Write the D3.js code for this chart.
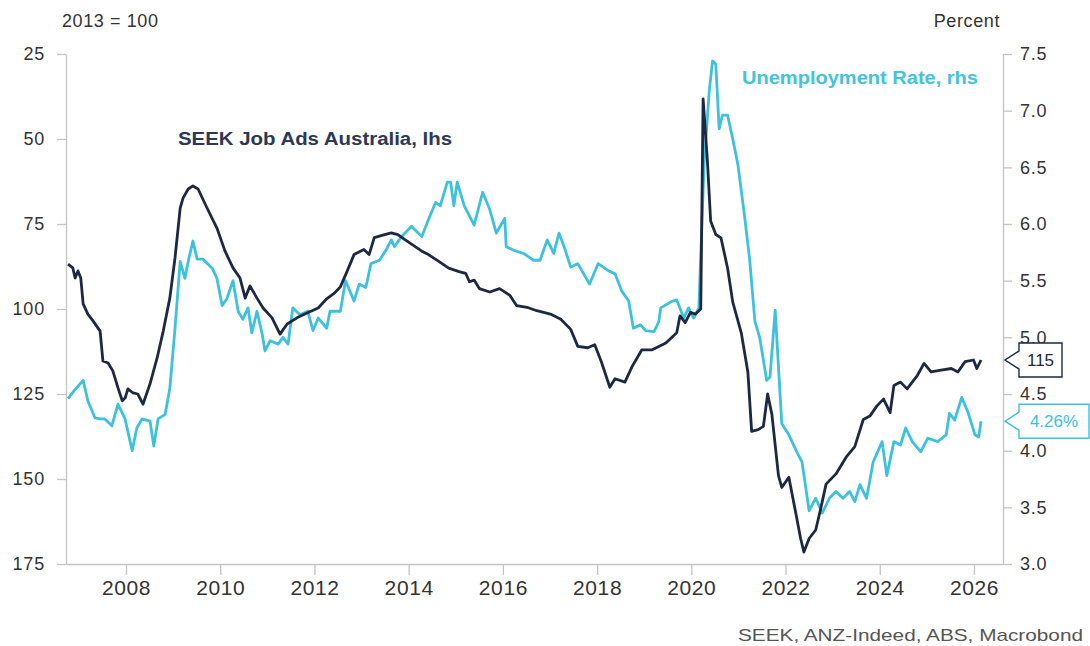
<!DOCTYPE html>
<html><head><meta charset="utf-8">
<script src="https://cdn.jsdelivr.net/npm/d3@7"></script>
<style>
html,body{margin:0;padding:0;background:#fff;}
svg{display:block;font-family:"Liberation Sans",Arial,sans-serif;}
</style></head><body>
<svg id="chart" width="1090" height="646"></svg>
<script>
// SEEK Job Ads Australia (2013 = 100), left axis (inverted)
const jobAdsDates = [2006.77,2006.87,2006.92,2006.98,2007.04,2007.09,2007.19,2007.30,2007.45,2007.51,2007.62,2007.72,2007.83,2007.92,2007.98,2008.04,2008.15,2008.25,2008.36,2008.51,2008.66,2008.79,2008.93,2009.04,2009.15,2009.21,2009.32,2009.42,2009.53,2009.72,2009.93,2010.10,2010.27,2010.42,2010.53,2010.63,2010.78,2010.91,2011.10,2011.27,2011.42,2011.63,2011.84,2012.08,2012.26,2012.41,2012.55,2012.69,2012.84,2013.05,2013.16,2013.27,2013.49,2013.63,2013.77,2013.92,2014.13,2014.28,2014.42,2014.64,2014.85,2015.07,2015.21,2015.29,2015.39,2015.50,2015.72,2015.93,2016.15,2016.29,2016.51,2016.72,2017.01,2017.23,2017.44,2017.59,2017.80,2017.95,2018.09,2018.27,2018.38,2018.59,2018.74,2018.95,2019.17,2019.31,2019.46,2019.69,2019.76,2019.87,2019.98,2020.09,2020.20,2020.25,2020.34,2020.41,2020.52,2020.63,2020.77,2020.88,2021.06,2021.20,2021.28,2021.42,2021.53,2021.62,2021.71,2021.85,2021.92,2022.07,2022.21,2022.32,2022.39,2022.50,2022.64,2022.75,2022.86,2023.07,2023.29,2023.47,2023.65,2023.79,2023.94,2024.08,2024.22,2024.30,2024.44,2024.58,2024.80,2024.94,2025.09,2025.30,2025.52,2025.66,2025.81,2025.99,2026.06,2026.15];
const jobAdsValues = [86.8,87.9,90.9,88.8,90.9,98.5,101.5,103.5,106.5,115.3,115.9,118.2,123.2,127,126.2,123.5,124.7,125,128,122,114.4,106.5,96.8,85,70.3,67.4,64.7,63.8,64.7,70.3,76.2,82.9,87.9,90.9,96.8,93.2,96.8,99.7,102.6,107.4,104.4,102.6,101.2,99.7,97.0,95.5,93.5,89.0,84.0,82.5,84.0,79.0,78.1,77.6,78.1,79.6,81.6,83.0,84.0,86.0,88.0,89.0,89.5,92.0,91.5,94.0,95.0,94.0,96.0,99.0,99.5,100.5,101.5,103.0,106.0,111.0,111.4,110.5,115.5,123.0,120.5,121.5,117.0,112.0,112.0,111.0,110.0,107.0,102.0,104.0,101.0,101.5,100.0,38.2,56.1,74.1,78.1,79.1,88.0,98.0,107.0,118.5,136.0,135.5,134.5,125.0,131.0,149.0,152.5,149.5,159.5,167.5,171.5,167.5,165.0,158.5,151.5,148.5,143.5,140.5,132.5,131.5,128.5,126.5,130.5,122.5,121.5,123.5,119.5,116.0,118.5,118.0,117.5,118.5,115.5,115.0,117.5,115];

// Unemployment rate (percent), right axis
const unempDates = [2006.77,2006.92,2007.09,2007.19,2007.34,2007.45,2007.55,2007.70,2007.83,2007.98,2008.13,2008.23,2008.34,2008.51,2008.59,2008.68,2008.83,2008.93,2009.04,2009.15,2009.25,2009.32,2009.42,2009.51,2009.63,2009.83,2009.93,2010.04,2010.14,2010.27,2010.38,2010.48,2010.59,2010.67,2010.78,2010.89,2010.95,2011.06,2011.23,2011.33,2011.44,2011.54,2011.69,2011.86,2011.97,2012.08,2012.26,2012.33,2012.55,2012.66,2012.84,2012.95,2013.09,2013.20,2013.38,2013.52,2013.63,2013.70,2013.85,2013.99,2014.06,2014.20,2014.28,2014.42,2014.57,2014.67,2014.82,2014.89,2014.96,2015.03,2015.18,2015.39,2015.57,2015.72,2015.86,2016.04,2016.07,2016.22,2016.44,2016.65,2016.79,2016.94,2017.08,2017.19,2017.30,2017.44,2017.59,2017.84,2018.02,2018.23,2018.38,2018.52,2018.67,2018.77,2018.92,2019.03,2019.21,2019.31,2019.35,2019.60,2019.69,2019.84,2019.94,2020.05,2020.16,2020.27,2020.38,2020.45,2020.52,2020.59,2020.66,2020.77,2020.88,2020.99,2021.13,2021.24,2021.35,2021.45,2021.60,2021.67,2021.78,2021.92,2022.07,2022.25,2022.35,2022.50,2022.64,2022.78,2022.93,2023.07,2023.22,2023.36,2023.47,2023.58,2023.72,2023.86,2024.05,2024.15,2024.30,2024.44,2024.55,2024.69,2024.87,2025.02,2025.23,2025.41,2025.48,2025.59,2025.74,2025.88,2026.02,2026.10,2026.15];
const unempValues = [4.46,4.54,4.62,4.44,4.29,4.28,4.28,4.22,4.41,4.28,4.00,4.20,4.28,4.26,4.04,4.28,4.32,4.55,5.08,5.67,5.52,5.67,5.85,5.69,5.69,5.61,5.52,5.28,5.34,5.50,5.23,5.16,5.26,5.04,5.23,5.03,4.88,4.97,4.94,5.00,4.94,5.26,5.20,5.23,5.06,5.17,5.08,5.23,5.23,5.50,5.32,5.47,5.44,5.65,5.68,5.77,5.86,5.80,5.89,5.95,5.98,5.92,5.89,6.04,6.19,6.16,6.37,6.37,6.16,6.37,6.16,5.99,6.28,6.13,5.92,6.05,5.80,5.77,5.74,5.68,5.68,5.86,5.74,5.92,5.80,5.62,5.65,5.47,5.65,5.59,5.56,5.41,5.32,5.08,5.11,5.06,5.05,5.14,5.26,5.32,5.33,5.17,5.26,5.17,5.26,6.52,7.17,7.44,7.41,6.84,6.96,6.96,6.75,6.52,6.07,5.68,5.14,5.00,4.62,4.65,5.24,4.24,4.14,3.98,3.90,3.47,3.58,3.45,3.58,3.64,3.58,3.64,3.55,3.70,3.58,3.90,4.08,3.78,4.08,4.05,4.20,4.08,3.99,4.11,4.08,4.14,4.33,4.27,4.47,4.33,4.14,4.12,4.26];

const xTickYears = [2008,2010,2012,2014,2016,2018,2020,2022,2024,2026];
const leftTicks = [25,50,75,100,125,150,175];
const rightTicks = [3.0,3.5,4.0,4.5,5.0,5.5,6.0,6.5,7.0,7.5];
const leftUnit = "2013 = 100";
const rightUnit = "Percent";
const jobAdsLabel = "SEEK Job Ads Australia, lhs";
const unempLabel = "Unemployment Rate, rhs";
const sourceText = "SEEK, ANZ-Indeed, ABS, Macrobond";
const jobAdsLast = "115";
const unempLast = "4.26%";
const unempLastValue = 4.26;

const navy = "#1d2842", cyan = "#3dc1dc", axisCol = "#c4c4c4", textCol = "#333";
const L = 66, R = 1003, T = 54, B = 564;

const svg = d3.select("#chart");
const x = d3.scaleLinear().domain([2006.726, 2026.616]).range([L, R]);
const yL = d3.scaleLinear().domain([25, 175]).range([T, B]);
const yR = d3.scaleLinear().domain([7.5, 3.0]).range([T, B]);

function styleAxis(g, fs, ls) {
  g.select(".domain").attr("stroke", axisCol).attr("stroke-width", 1.3);
  g.selectAll(".tick line").attr("stroke", axisCol).attr("stroke-width", 1.3);
  g.selectAll(".tick text").attr("fill", textCol).style("font-size", fs + "px")
    .style("letter-spacing", ls + "px").style("font-family", '"Liberation Sans",Arial,sans-serif');
}

svg.append("g").attr("transform", `translate(${L},0)`)
  .call(d3.axisLeft(yL).tickValues(leftTicks).tickSize(9).tickSizeOuter(0).tickPadding(12))
  .call(g => styleAxis(g, 18, 0.8));

svg.append("g").attr("transform", `translate(${R},0)`)
  .call(d3.axisRight(yR).tickValues(rightTicks).tickSize(9).tickSizeOuter(0).tickPadding(8).tickFormat(d3.format(".1f")))
  .call(g => styleAxis(g, 18, 0.8));

svg.append("g").attr("transform", `translate(0,${B})`)
  .call(d3.axisBottom(x).tickValues(xTickYears).tickSize(11).tickSizeOuter(0).tickPadding(5).tickFormat(d3.format("d")))
  .call(g => styleAxis(g, 21, 0.6));

const unempData = d3.zip(unempDates, unempValues);
const jobAdsData = d3.zip(jobAdsDates, jobAdsValues);

svg.append("path").datum(unempData)
  .attr("fill", "none").attr("stroke", cyan).attr("stroke-width", 2.8).attr("stroke-linejoin", "round")
  .attr("d", d3.line().x(d => x(d[0])).y(d => yR(d[1])));

svg.append("path").datum(jobAdsData)
  .attr("fill", "none").attr("stroke", navy).attr("stroke-width", 2.8).attr("stroke-linejoin", "round")
  .attr("d", d3.line().x(d => x(d[0])).y(d => yL(d[1])));

// unit labels
svg.append("text").attr("x", 62).attr("y", 27).attr("fill", textCol)
  .style("font-size", "18px").style("letter-spacing", "0.6px").text(leftUnit);
svg.append("text").attr("x", 1000).attr("y", 27).attr("text-anchor", "end").attr("fill", textCol)
  .style("font-size", "18px").style("letter-spacing", "0.6px").text(rightUnit);

// series labels
svg.append("text").attr("x", 178).attr("y", 145).attr("fill", "#2c3856")
  .style("font-size", "18px").style("font-weight", "bold")
  .attr("textLength", 274).attr("lengthAdjust", "spacingAndGlyphs").text(jobAdsLabel);
svg.append("text").attr("x", 742).attr("y", 84).attr("fill", "#45c3dc")
  .style("font-size", "18px").style("font-weight", "bold")
  .attr("textLength", 236).attr("lengthAdjust", "spacingAndGlyphs").text(unempLabel);

// source
svg.append("text").attr("x", 1083).attr("y", 641).attr("text-anchor", "end").attr("fill", "#555")
  .style("font-size", "17px").attr("textLength", 345).attr("lengthAdjust", "spacingAndGlyphs").text(sourceText);

// last-value callouts
function callout(yv, w, label, col) {
  const tip = R + 2, bx = R + 16, h = 34, top = yv - h / 2, notch = 8;
  const pts = [[bx, top], [bx + w, top], [bx + w, top + h], [bx, top + h], [bx, top + h - notch], [tip, yv], [bx, top + notch]];
  svg.append("path").attr("d", d3.line()(pts) + "Z")
    .attr("fill", "#fff").attr("stroke", col).attr("stroke-width", 1.4);
  svg.append("text").attr("x", bx + w / 2).attr("y", yv + 6).attr("text-anchor", "middle")
    .attr("fill", col).style("font-size", "17px").text(label);
}
callout(yL(jobAdsValues[jobAdsValues.length - 1]), 43, jobAdsLast, navy);
callout(yR(unempLastValue), 70, unempLast, cyan);
</script>
</body></html>
